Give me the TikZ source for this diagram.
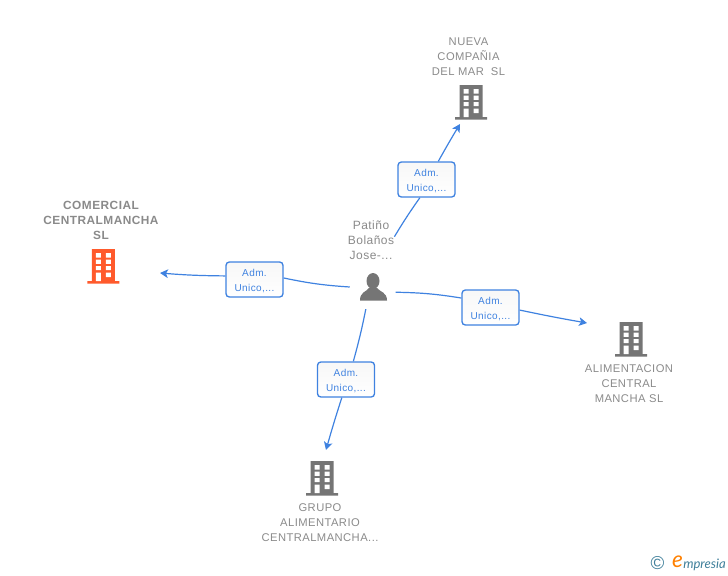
\documentclass[tikz,border=0pt]{standalone}
\usepackage{fontspec}
\setmainfont{Liberation Sans}
\newfontfamily\namefont[LetterSpace=4]{Liberation Sans}
\newfontfamily\logofont{Lato}
\usetikzlibrary{arrows.meta}
\definecolor{linkblue}{HTML}{3F82E0}
\definecolor{iconorange}{HTML}{FF5A2C}
\definecolor{icongray}{HTML}{757575}
\definecolor{namegray}{HTML}{8A8A8A}
\definecolor{logoteal}{HTML}{3F7F9A}
\newcommand*{\admrole}{\rule{0pt}{7pt}Adm.\\Unico,...}
\tikzset{
  link/.style={draw=linkblue,line width=.9pt,->,>={Stealth[length=6pt,width=6.5pt,inset=1.5pt]}},
  role/.style={draw=linkblue,line width=1pt,rounded corners=2.5pt,top color=black!3,bottom color=white,
    minimum width=42.75pt,minimum height=26.25pt,inner sep=0pt,align=center,text=linkblue,
    font=\namefont\fontsize{7.5}{11.25}\selectfont},
  entity/.style={inner sep=0pt,align=center,text=namegray,font=\namefont\fontsize{8.4}{11.25}\selectfont},
  person/.style={circle,minimum size=34.5pt,inner sep=0pt},
  building/.pic={
    \fill (-11.5,-17) rectangle (11.5,15) (-16,15) rectangle (16,17.5);
    \fill[white] (-7.5,-13) rectangle (-2.5,-8.5) (2.5,-13) rectangle (7.5,-8.5)
      (-7.5,-6.5) rectangle (-2.5,-2.2) (2.5,-6.5) rectangle (7.5,-2.2)
      (-7.5,0) rectangle (-2.5,4) (2.5,0) rectangle (7.5,4)
      (-7.5,6.5) rectangle (-2.5,15) (2.5,6.5) rectangle (7.5,11);
  }
}

\begin{document}
\begin{tikzpicture}[x=.75pt,y=-.75pt]
    \useasboundingbox (0,0) rectangle (728,575);

    \node[person] (patino) at (373,287) {};
    \fill[icongray] (373,281) ellipse (6.5 and 8);
    \fill[icongray] (360,300.5) .. controls (360,292) and (366,292) .. (369,288)
      -- (377,288) .. controls (380,292) and (387,292) .. (387,300.5) -- cycle;
    \node[entity,font=\namefont\fontsize{9}{11.25}\selectfont] (patinoname) at (371,240) {Patiño\\Bolaños\\Jose-...};

    \pic[iconorange] at (103.3,266) {building};
    \node[entity,font=\bfseries\namefont\fontsize{8.9}{11.25}\selectfont] (comercialname) at (101,220) {COMERCIAL\\CENTRALMANCHA\\SL};
    \pic[icongray] at (471,102) {building};
    \node[entity] (nuevaname) at (468.5,57) {NUEVA\\COMPAÑIA\\DEL MAR\ \ SL};
    \pic[icongray] at (631,339) {building};
    \node[entity] (alimentacionname) at (629,383.5) {ALIMENTACION\\CENTRAL\\MANCHA SL};
    \pic[icongray] at (322,478) {building};
    \node[entity] (gruponame) at (320,522.5) {GRUPO\\ALIMENTARIO\\CENTRALMANCHA...};

    \node[role] (admnueva) at (426.5,179.5) {\admrole};
    \node[role] (admcomercial) at (254.5,279.5) {\admrole};
    \node[role] (admalimentacion) at (490.5,307.5) {\admrole};
    \node[role] (admgrupo) at (346,379.5) {\admrole};

    \coordinate (nuevatip) at (460,124);
    \coordinate (comercialtip) at (160,273);
    \coordinate (alimentaciontip) at (587,323);
    \coordinate (grupotip) at (326,450);

    \draw[link,-] (patinoname.8) to[bend left=2] (admnueva.250);
    \draw[link] (admnueva.57) to[bend left=1] (nuevatip);
    \draw[link,-] (patino.180) to[bend left=4] (admcomercial.3);
    \draw[link] (admcomercial.173) to[bend left=2] (comercialtip);
    \draw[link,-] (patino.-13) to[bend left=4] (admalimentacion.162);
    \draw[link] (admalimentacion.-5) to[bend right=1] (alimentaciontip);
    \draw[link,-] (patino.-108) to[bend left=2] (admgrupo.68);
    \draw[link] (admgrupo.257) to[bend right=1] (grupotip);

    % logo
    \node[inner sep=0pt,text=logoteal,font=\fontsize{14}{14}\selectfont] (logomark) at (657.5,563.5) {©};
    \node[inner sep=0pt,text=orange,font=\logofont\itshape\fontsize{17}{17}\selectfont] (logoe) at (677.5,561.5) {e};
    \node[inner sep=0pt,anchor=west,text=logoteal,font=\logofont\itshape\fontsize{9.8}{10}\selectfont] (logotext) at (683,565) {mpresia};
\end{tikzpicture}
\end{document}
